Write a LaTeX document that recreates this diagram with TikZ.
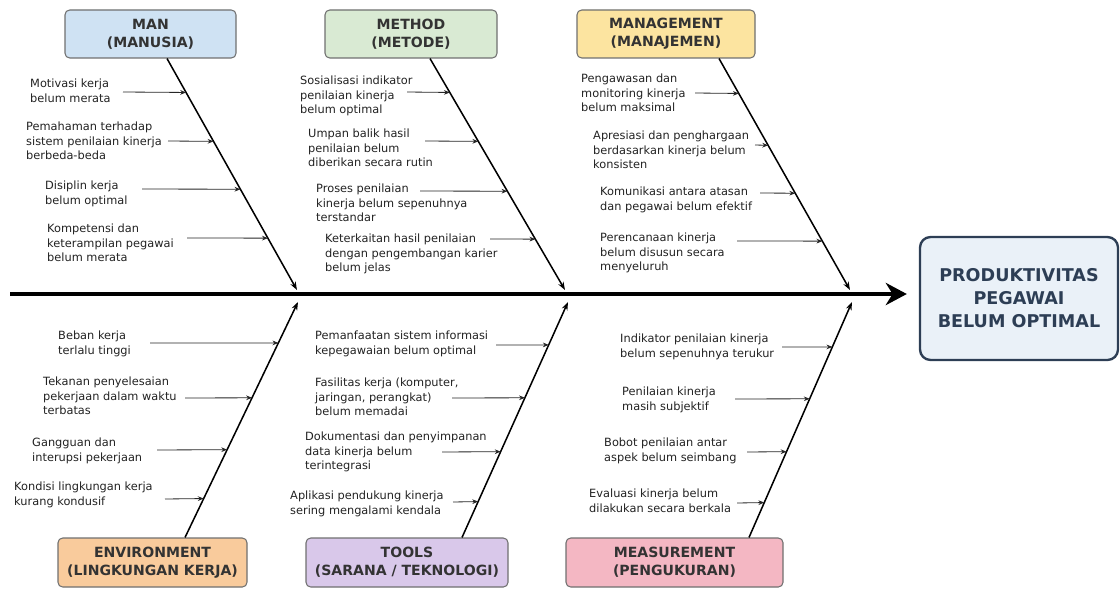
\documentclass[tikz,border=0pt]{standalone}
\usepackage{fontspec}
\setmainfont{DejaVu Sans}
\usetikzlibrary{arrows.meta,calc}
\definecolor{manfill}{HTML}{CFE2F3}
\definecolor{methodfill}{HTML}{D9EAD3}
\definecolor{mgmtfill}{HTML}{FCE4A0}
\definecolor{envfill}{HTML}{F9CB9C}
\definecolor{toolsfill}{HTML}{D9C8EA}
\definecolor{measfill}{HTML}{F4B7C3}
\definecolor{headfill}{HTML}{EAF1F8}
\definecolor{headdraw}{HTML}{2D3E55}
\definecolor{boxborder}{HTML}{707070}
\definecolor{labeltext}{HTML}{333333}
\definecolor{causetext}{HTML}{222222}
\begin{document}
\begin{tikzpicture}[x=0.03cm,y=-0.03cm,
  catbox/.style={draw=boxborder, line width=0.9pt, rounded corners=4pt, inner sep=0pt,
    align=center, text=labeltext, font=\bfseries\fontsize{12}{15.4}\selectfont},
  cause/.style={anchor=north west, inner sep=0pt, align=left, text=causetext,
    font=\fontsize{9.7}{12.4}\selectfont},
  bone/.style={line width=1.3pt, draw=black, -{Stealth[length=7pt,width=5pt]}},
  sub/.style={line width=0.7pt, draw=black!85, -{Stealth[length=5pt,width=4pt]}},
  spine/.style={line width=3pt, draw=black, -{Stealth[length=18pt,width=19pt]}}]
\useasboundingbox (0,0) rectangle (1120,590);

% head
\node[draw=headdraw, line width=2pt, fill=headfill, rounded corners=9pt, inner sep=0pt,
  minimum width={198*0.03cm}, minimum height={123*0.03cm}, align=center, text=headdraw,
  font=\bfseries\fontsize{15}{19.6}\selectfont] (head) at (1019,298.5)
  {PRODUKTIVITAS\\PEGAWAI\\BELUM OPTIMAL};

% category boxes
\node[catbox, fill=manfill, minimum width={171*0.03cm}, minimum height={48*0.03cm}] (man) at (150.5,34) {MAN\\(MANUSIA)};
\node[catbox, fill=methodfill, minimum width={172*0.03cm}, minimum height={48*0.03cm}] (method) at (411,34) {METHOD\\(METODE)};
\node[catbox, fill=mgmtfill, minimum width={178*0.03cm}, minimum height={48*0.03cm}] (mgmt) at (666,34) {MANAGEMENT\\(MANAJEMEN)};
\node[catbox, fill=envfill, minimum width={189*0.03cm}, minimum height={49*0.03cm}] (env) at (152.5,562.5) {ENVIRONMENT\\(LINGKUNGAN KERJA)};
\node[catbox, fill=toolsfill, minimum width={202*0.03cm}, minimum height={49*0.03cm}] (tools) at (407,562.5) {TOOLS\\(SARANA / TEKNOLOGI)};
\node[catbox, fill=measfill, minimum width={217*0.03cm}, minimum height={49*0.03cm}] (meas) at (674.5,562.5) {MEASUREMENT\\(PENGUKURAN)};

% spine
\coordinate (spine0) at (10,294);
\coordinate (spine1) at ($(spine0 -| head.west)+(-12,0)$);
\draw[spine] (spine0) -- (spine1);

% bones
\coordinate (manA) at ($(man.south)+(16.5,0)$);
\coordinate (manB) at (297,290);
\coordinate (methA) at ($(method.south)+(19,0)$);
\coordinate (methB) at (565,290);
\coordinate (mgmtA) at ($(mgmt.south)+(53,0)$);
\coordinate (mgmtB) at (850,290);
\coordinate (envA) at ($(env.north)+(32.5,0)$);
\coordinate (envB) at (298,302);
\coordinate (toolsA) at ($(tools.north)+(55,0)$);
\coordinate (toolsB) at (568,302);
\coordinate (measA) at ($(meas.north)+(74.5,0)$);
\coordinate (measB) at (852,302);
\foreach \b in {man,meth,mgmt,env,tools,meas}{\draw[bone] (\b A) -- (\b B);}

% MAN causes
\node[cause] (c11) at (30,79) {Motivasi kerja\\belum merata};
\node[cause] (c12) at (26,122) {Pemahaman terhadap\\sistem penilaian kinerja\\berbeda-beda};
\node[cause] (c13) at (45,181) {Disiplin kerja\\belum optimal};
\node[cause] (c14) at (47,224) {Kompetensi dan\\keterampilan pegawai\\belum merata};
% METHOD causes
\node[cause] (c21) at (300,76) {Sosialisasi indikator\\penilaian kinerja\\belum optimal};
\node[cause] (c22) at (308,129) {Umpan balik hasil\\penilaian belum\\diberikan secara rutin};
\node[cause] (c23) at (316,184) {Proses penilaian\\kinerja belum sepenuhnya\\terstandar};
\node[cause] (c24) at (325,234) {Keterkaitan hasil penilaian\\dengan pengembangan karier\\belum jelas};
% MANAGEMENT causes
\node[cause] (c31) at (581,74) {Pengawasan dan\\monitoring kinerja\\belum maksimal};
\node[cause] (c32) at (593,131) {Apresiasi dan penghargaan\\berdasarkan kinerja belum\\konsisten};
\node[cause] (c33) at (600,187) {Komunikasi antara atasan\\dan pegawai belum efektif};
\node[cause] (c34) at (600,233) {Perencanaan kinerja\\belum disusun secara\\menyeluruh};
% ENVIRONMENT causes
\node[cause] (c41) at (58,331) {Beban kerja\\terlalu tinggi};
\node[cause] (c42) at (43,377) {Tekanan penyelesaian\\pekerjaan dalam waktu\\terbatas};
\node[cause] (c43) at (32,438) {Gangguan dan\\interupsi pekerjaan};
\node[cause] (c44) at (14,482) {Kondisi lingkungan kerja\\kurang kondusif};
% TOOLS causes
\node[cause] (c51) at (315,331) {Pemanfaatan sistem informasi\\kepegawaian belum optimal};
\node[cause] (c52) at (315,378) {Fasilitas kerja (komputer,\\jaringan, perangkat)\\belum memadai};
\node[cause] (c53) at (305,432) {Dokumentasi dan penyimpanan\\data kinerja belum\\terintegrasi};
\node[cause] (c54) at (290,491) {Aplikasi pendukung kinerja\\sering mengalami kendala};
% MEASUREMENT causes
\node[cause] (c61) at (620,334) {Indikator penilaian kinerja\\belum sepenuhnya terukur};
\node[cause] (c62) at (622,387) {Penilaian kinerja\\masih subjektif};
\node[cause] (c63) at (604,438) {Bobot penilaian antar\\aspek belum seimbang};
\node[cause] (c64) at (589,489) {Evaluasi kinerja belum\\dilakukan secara berkala};

% sub arrows: start coordinate, bone, fraction
\foreach \n/\sx/\sy/\b/\t in {
  11/123/92/man/0.1466, 12/168/141/man/0.3578, 13/142/189/man/0.5647, 14/187/238/man/0.7759,
  21/407/92/meth/0.1466, 22/425/141/meth/0.3578, 23/420/191/meth/0.5733, 24/490/239/meth/0.7802,
  31/695/93/mgmt/0.1509, 32/755/145/mgmt/0.375, 33/760/193/mgmt/0.5819, 34/737/241/mgmt/0.7888,
  41/150/343/env/0.8263, 42/185/398/env/0.5932, 43/157/450/env/0.3729, 44/165/499/env/0.1653,
  51/496/345/tools/0.8178, 52/452/398/tools/0.5932, 53/442/452/tools/0.3644, 54/453/502/tools/0.1525,
  61/782/347/meas/0.8093, 62/735/399/meas/0.589, 63/747/452/meas/0.3644, 64/737/503/meas/0.1483}{
  \coordinate (s\n) at (\sx,\sy);
  \coordinate (e\n) at ($(\b A)!\t!(\b B)$);
  \draw[sub] (s\n) -- (e\n);
}
\end{tikzpicture}
\end{document}
